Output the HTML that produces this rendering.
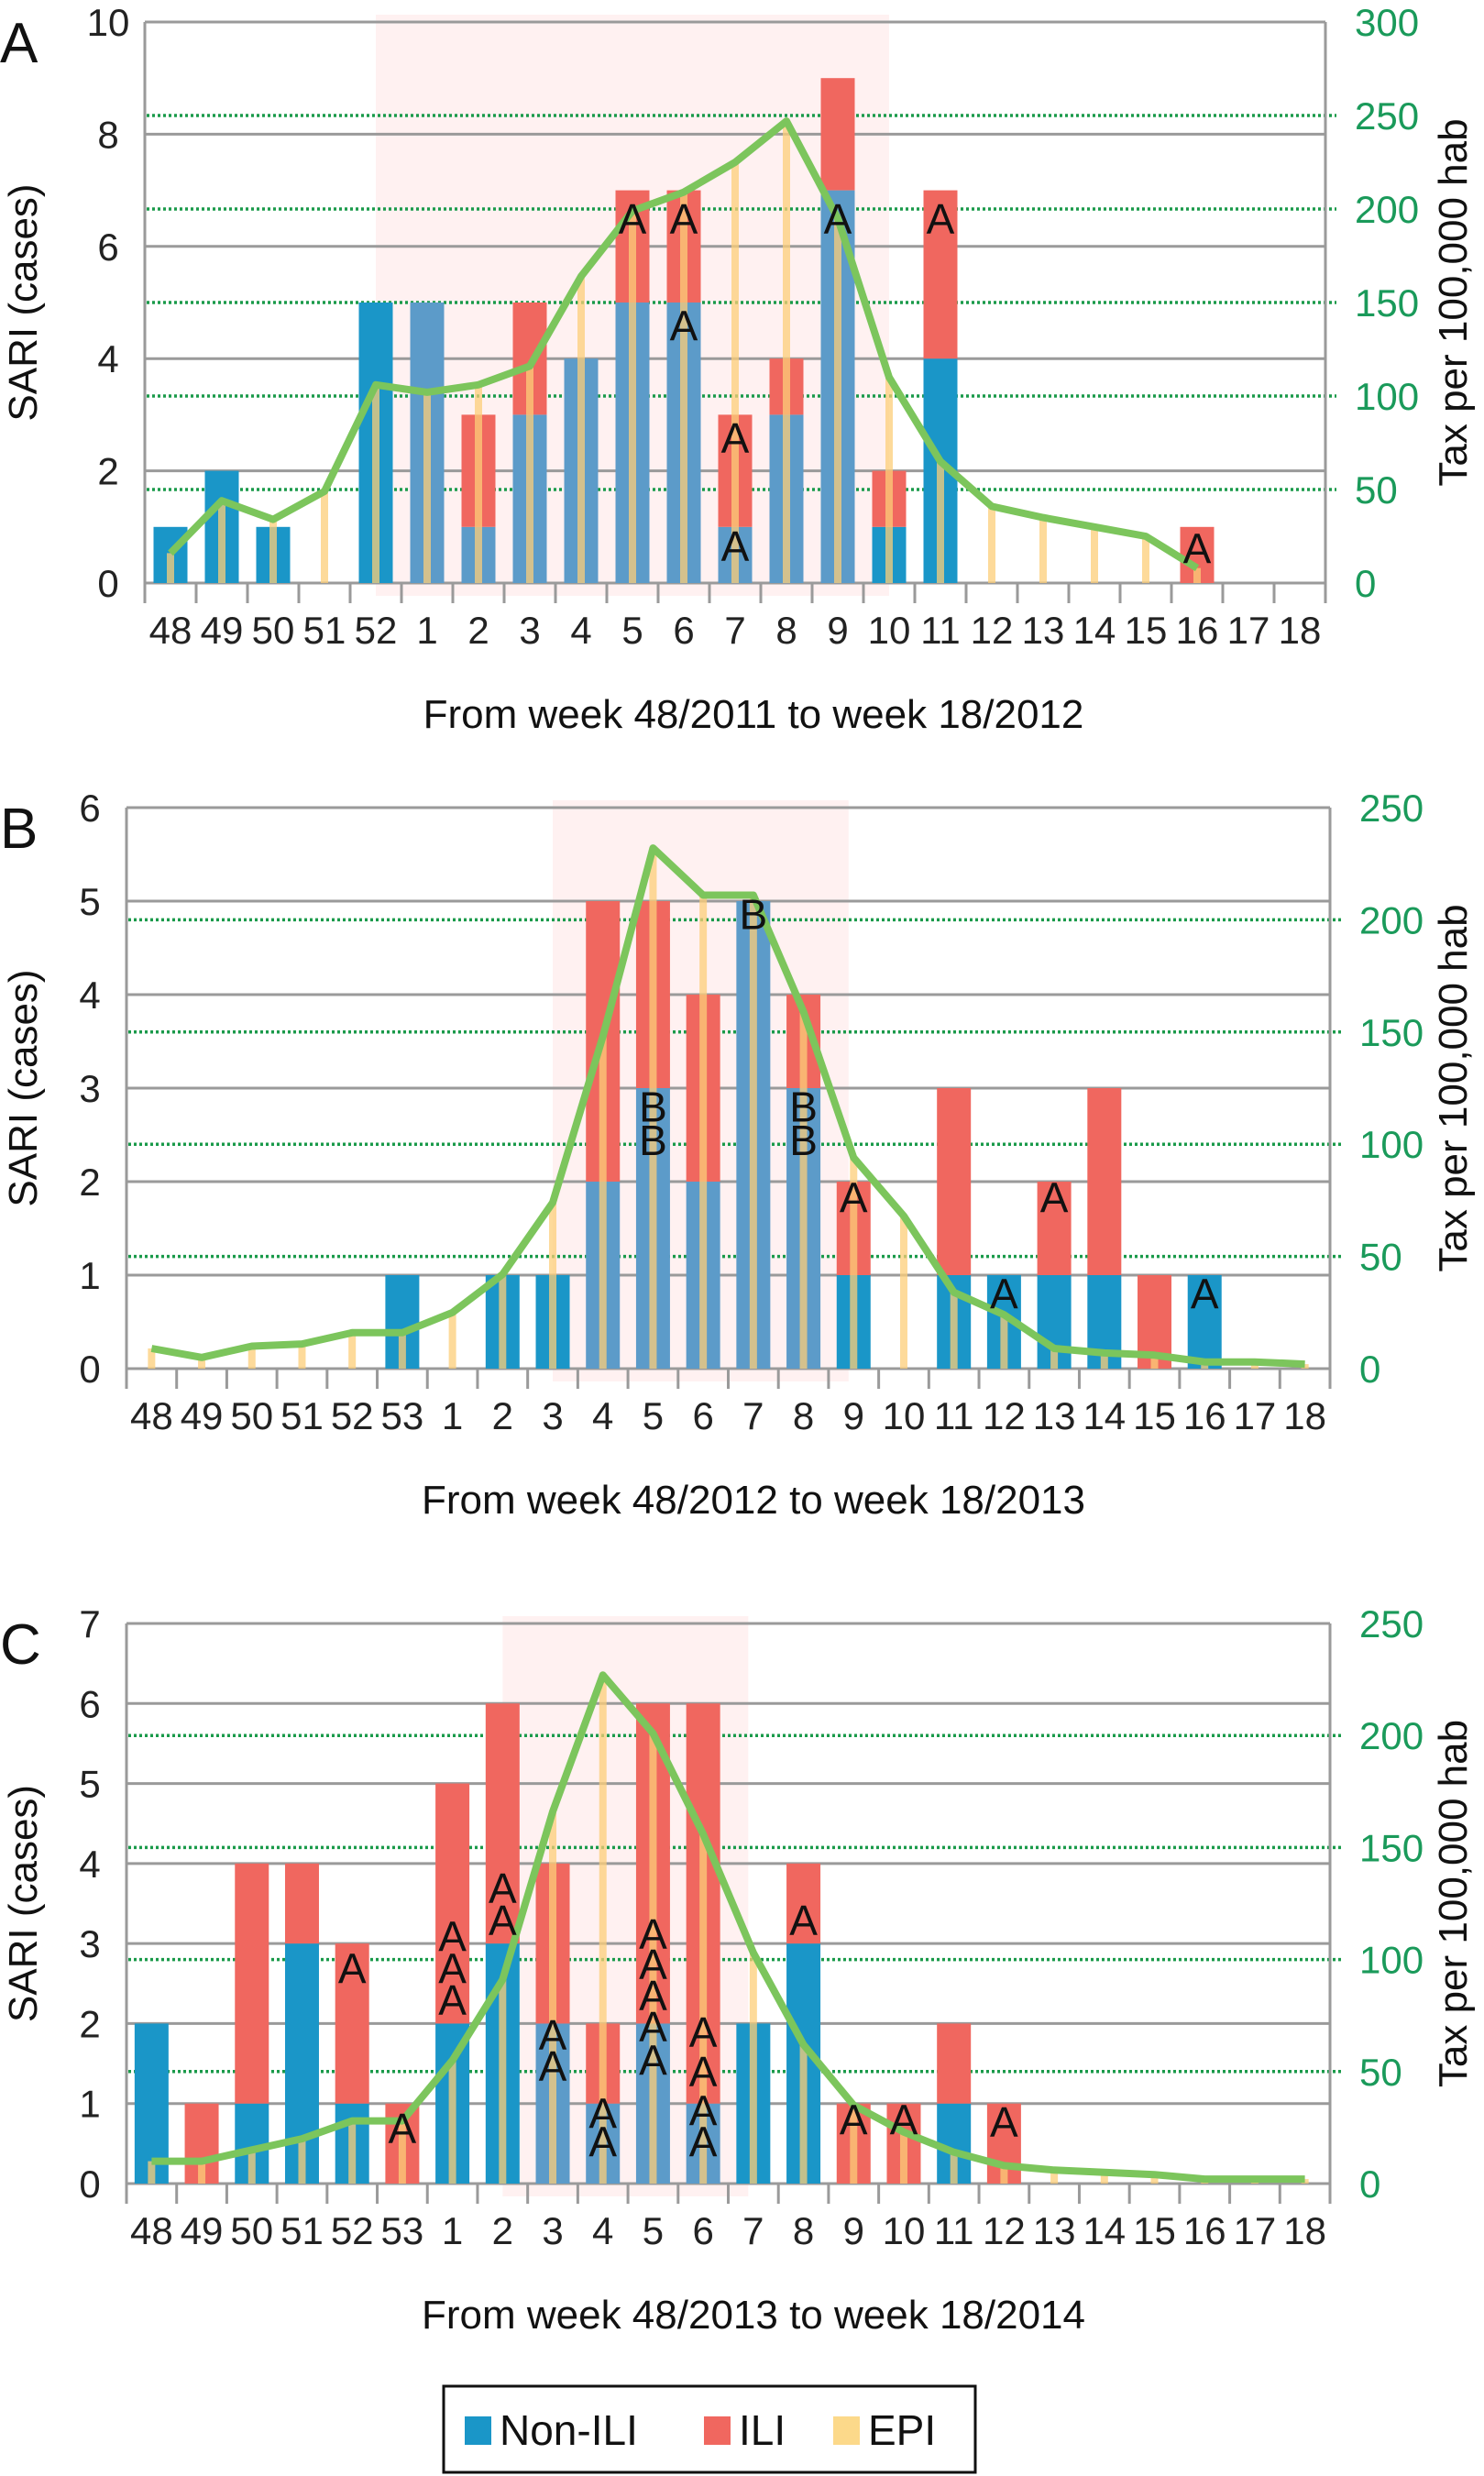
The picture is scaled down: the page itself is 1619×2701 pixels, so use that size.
<!DOCTYPE html>
<html><head><meta charset="utf-8">
<style>
html,body{margin:0;padding:0;background:#fff;}
svg{display:block;}
text{font-family:"Liberation Sans Narrow","Liberation Sans",sans-serif;}
</style></head>
<body>
<svg id="chart" width="1619" height="2701" xmlns="http://www.w3.org/2000/svg"></svg>
<script>
// ---- Panel A data ----
const catsA = ["48","49","50","51","52","1","2","3","4","5","6","7","8","9","10","11","12","13","14","15","16","17","18"];
const nonIliA = [1,2,1,0,5,5,1,3,4,5,5,1,3,7,1,4,0,0,0,0,0,0,0];
const iliA    = [0,0,0,0,0,0,2,2,0,2,2,2,1,2,1,3,0,0,0,0,1,0,0];
const rateA   = [16,44,34,49,106,102,106,116,164,199,209,225,247,195,110,65,41,35,30,25,8,null,null];
const annotA  = [["5",6.5,"A"],["6",6.5,"A"],["6",4.6,"A"],["7",2.6,"A"],["7",0.67,"A"],["9",6.5,"A"],["11",6.5,"A"],["16",0.63,"A"]];
const leftTicksA = [0,2,4,6,8,10];
const rightTicksA = [0,50,100,150,200,250,300];
// ---- Panel B data ----
const catsB = ["48","49","50","51","52","53","1","2","3","4","5","6","7","8","9","10","11","12","13","14","15","16","17","18"];
const nonIliB = [0,0,0,0,0,1,0,1,1,2,3,2,5,3,1,0,1,1,1,1,0,1,0,0];
const iliB    = [0,0,0,0,0,0,0,0,0,3,2,2,0,1,1,0,2,0,1,2,1,0,0,0];
const rateB   = [9,5,10,11,16,16,25,42,74,148,232,211,211,159,94,68,34,24,9,7,6,3,3,2];
const annotB  = [["7",4.87,"B"],["5",2.81,"B"],["5",2.45,"B"],["8",2.81,"B"],["8",2.45,"B"],["9",1.84,"A"],["13",1.84,"A"],["12",0.81,"A"],["16",0.81,"A"]];
const leftTicksB = [0,1,2,3,4,5,6];
const rightTicksB = [0,50,100,150,200,250];
// ---- Panel C data ----
const catsC = ["48","49","50","51","52","53","1","2","3","4","5","6","7","8","9","10","11","12","13","14","15","16","17","18"];
const nonIliC = [2,0,1,3,1,0,2,3,2,1,2,1,2,3,0,0,1,0,0,0,0,0,0,0];
const iliC    = [0,1,3,1,2,1,3,3,2,1,4,5,0,1,1,1,1,1,0,0,0,0,0,0];
const rateC   = [10,10,15,20,28,28,55,91,166,227,201,156,103,62,35,23,14,8,6,5,4,2,2,2];
const annotC  = [["52",2.7,"A"],["53",0.7,"A"],["1",3.1,"A"],["1",2.7,"A"],["1",2.3,"A"],["2",3.7,"A"],["2",3.3,"A"],["3",1.87,"A"],["3",1.48,"A"],["4",0.89,"A"],["4",0.53,"A"],["5",3.13,"A"],["5",2.75,"A"],["5",2.36,"A"],["5",1.97,"A"],["5",1.55,"A"],["6",1.9,"A"],["6",1.41,"A"],["6",0.92,"A"],["6",0.53,"A"],["8",3.3,"A"],["9",0.81,"A"],["10",0.81,"A"],["12",0.78,"A"]];
const leftTicksC = [0,1,2,3,4,5,6,7];
const rightTicksC = [0,50,100,150,200,250];

const NS="http://www.w3.org/2000/svg";
const svg=document.getElementById('chart');
function mk(tag,attrs,parent){const e=document.createElementNS(NS,tag);for(const k in attrs)e.setAttribute(k,attrs[k]);(parent||svg).appendChild(e);return e;}

function drawPanel(p){
  const g=mk('g',{});
  
  
  const n=p.cats.length, cw=(p.right-p.left)/n;
  const xc=i=>p.left+cw*(i+0.5);
  const yL=v=>p.y0-(p.y0-p.yTop)*v/p.lmax;
  const yR=v=>p.y0-(p.y0-p.yTop)*v/p.rmax;
  const sh=mk('rect',{x:p.left+cw*p.shade[0],y:p.yTop-8,width:cw*(p.shade[1]-p.shade[0]),height:p.y0-p.yTop+22,fill:'#fff1f1'},g);
  
  
  p.lt.forEach(v=>{const l=mk('line',{x1:p.left,x2:p.right,y1:yL(v),y2:yL(v),stroke:'#9a9a9a','stroke-width':3},g);
    
    const t=mk('text',{x:p.left-40,y:yL(v)+15,'font-size':42,'text-anchor':'middle',fill:'#222'},g);t.textContent=v;
    });
  p.rt.forEach(v=>{
    if(v>0&&v<p.rmax){const l=mk('line',{x1:p.left+2,x2:p.right+12,y1:yR(v),y2:yR(v),stroke:'#1a9a4a','stroke-width':3.5,'stroke-dasharray':'3 3'},g);
      }
    const t=mk('text',{x:p.right+32,y:yR(v)+15,'font-size':42,fill:'#1a9a5a'},g);t.textContent=v;
    });
  mk('line',{x1:p.left,x2:p.left,y1:p.yTop,y2:p.y0+22,stroke:'#9a9a9a','stroke-width':3},g);
  mk('line',{x1:p.right,x2:p.right,y1:p.yTop,y2:p.y0+22,stroke:'#9a9a9a','stroke-width':3},g);
  for(let i=0;i<=n;i++) mk('line',{x1:p.left+cw*i,x2:p.left+cw*i,y1:p.y0,y2:p.y0+22,stroke:'#9a9a9a','stroke-width':3},g);
  const bw=37;
  for(let i=0;i<n;i++){
    const c=i+0.5, inZ=c>p.shade[0]&&c<p.shade[1];
    const b=p.non[i], r=p.ili[i];
    if(b>0){const e=mk('rect',{x:xc(i)-bw/2,y:yL(b),width:bw,height:p.y0-yL(b),fill:inZ?'#5c9bc9':'#1a96c8'},g);
      }
    if(r>0){const e=mk('rect',{x:xc(i)-bw/2,y:yL(b+r),width:bw,height:yL(b)-yL(b+r),fill:'#f0675f'},g);
      }
    const t=mk('text',{x:xc(i),y:p.y0+66,'font-size':42,'text-anchor':'middle',fill:'#222'},g);t.textContent=p.cats[i];
    
  }
  for(let i=0;i<n;i++){const v=p.rate[i];if(v==null)continue;
    const e=mk('rect',{x:xc(i)-4,y:yR(v),width:8,height:p.y0-yR(v),fill:'rgba(252,205,120,0.75)'},g);
    }
  let d='';p.rate.forEach((v,i)=>{if(v==null)return;d+=(d?'L':'M')+xc(i).toFixed(1)+','+yR(v).toFixed(1);});
  const ln=mk('path',{d:d,fill:'none',stroke:'#7cc55c','stroke-width':8,'stroke-linejoin':'round'},g);
  
  p.ann.forEach(a=>{const i=p.cats.indexOf(a[0]);
    const t=mk('text',{x:xc(i),y:yL(a[1])+17,'font-size':46,'text-anchor':'middle',fill:'#111'},g);t.textContent=a[2];
    });
  const pl=mk('text',{x:0,y:p.yTop+44,'font-size':62,fill:'#111'},g);pl.textContent=p.id;
  
  const ly=(p.yTop+p.y0)/2;
  const yt=mk('text',{x:40,y:ly,'font-size':44,'text-anchor':'middle',fill:'#111',transform:'rotate(-90 40 '+ly+')',style:'font-family:"Liberation Sans",sans-serif'},g);yt.textContent='SARI (cases)';
  
  const yt2=mk('text',{x:1600,y:ly,'font-size':44,'text-anchor':'middle',fill:'#111',transform:'rotate(-90 1600 '+ly+')',style:'font-family:"Liberation Sans",sans-serif'},g);yt2.textContent='Tax per 100,000 hab';
  
  const xt=mk('text',{x:822,y:p.y0+158,'font-size':44,'text-anchor':'middle',fill:'#111'},g);xt.textContent=p.xtitle;
  
}
drawPanel({id:'A',cats:catsA,non:nonIliA,ili:iliA,rate:rateA,ann:annotA,lt:leftTicksA,rt:rightTicksA,lmax:10,rmax:300,left:158,right:1446,yTop:24,y0:636,shade:[4.5,14.5],xtitle:'From week 48/2011 to week 18/2012'});
drawPanel({id:'B',cats:catsB,non:nonIliB,ili:iliB,rate:rateB,ann:annotB,lt:leftTicksB,rt:rightTicksB,lmax:6,rmax:250,left:138,right:1451,yTop:881,y0:1493,shade:[8.5,14.4],xtitle:'From week 48/2012 to week 18/2013'});
drawPanel({id:'C',cats:catsC,non:nonIliC,ili:iliC,rate:rateC,ann:annotC,lt:leftTicksC,rt:rightTicksC,lmax:7,rmax:250,left:138,right:1451,yTop:1771,y0:2382,shade:[7.5,12.4],xtitle:'From week 48/2013 to week 18/2014'});
const lg=mk('g',{});


mk('rect',{x:484,y:2603,width:580,height:94,fill:'#fff',stroke:'#111','stroke-width':3},lg);
[[507,'#1a96c8','Non-ILI'],[768,'#f0675f','ILI'],[909,'#fcd98a','EPI']].forEach(it=>{
  const e=mk('g',{},lg);
  
  
  mk('rect',{x:it[0],y:2636,width:29,height:31,fill:it[1]},e);
  const t=mk('text',{x:it[0]+38,y:2667,'font-size':46,fill:'#111'},e);t.textContent=it[2];
});
</script>
</body></html>
